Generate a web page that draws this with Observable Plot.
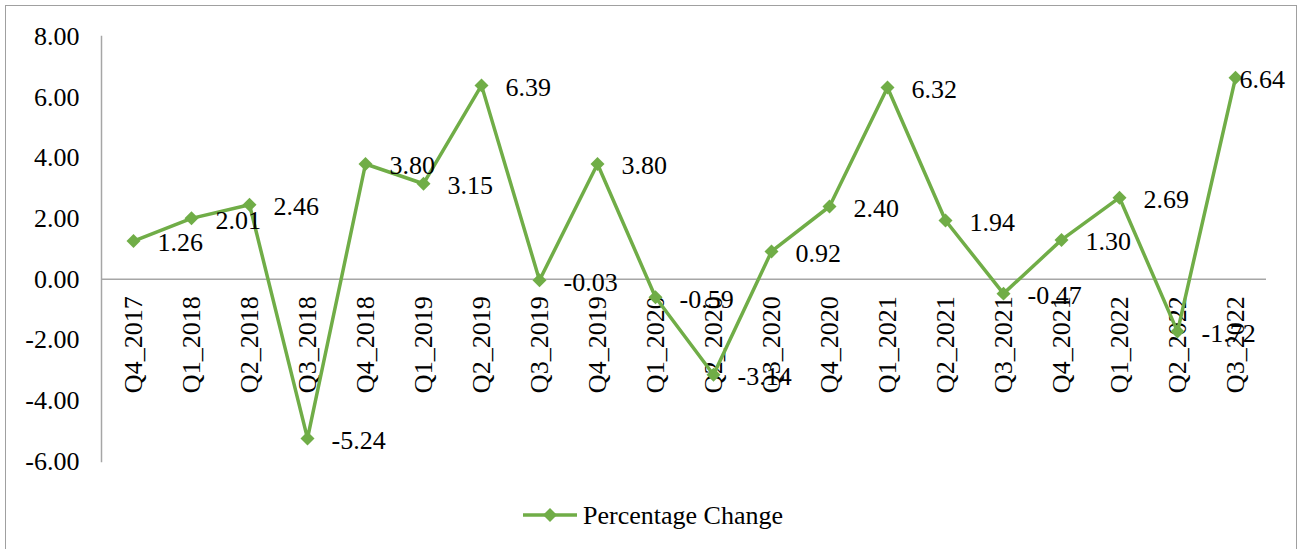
<!DOCTYPE html>
<html><head><meta charset="utf-8">
<script src="https://cdn.jsdelivr.net/npm/d3@7"></script>
<script src="https://cdn.jsdelivr.net/npm/@observablehq/plot@0.6"></script>
<style>
html,body{margin:0;padding:0;background:#fff;overflow:hidden;width:1299px;height:549px;}
body{font-family:"Liberation Serif","Times New Roman",serif;}
#frame{position:absolute;left:5px;top:5px;width:1292px;height:600px;border:1px solid #a0a0a0;box-sizing:border-box;}
#chart{position:absolute;left:0;top:0;}
#legend{position:absolute;left:0;top:490px;}
</style></head><body>
<div id="frame"></div>
<div id="chart"></div>
<div id="legend"></div>
<script>
const quarters = ["Q4_2017","Q1_2018","Q2_2018","Q3_2018","Q4_2018","Q1_2019","Q2_2019","Q3_2019","Q4_2019","Q1_2020","Q2_2020","Q3_2020","Q4_2020","Q1_2021","Q2_2021","Q3_2021","Q4_2021","Q1_2022","Q2_2022","Q3_2022"];
const changes = [1.26, 2.01, 2.46, -5.24, 3.80, 3.15, 6.39, -0.03, 3.80, -0.59, -3.14, 0.92, 2.40, 6.32, 1.94, -0.47, 1.30, 2.69, -1.72, 6.64];
const yTicks = [-6, -4, -2, 0, 2, 4, 6, 8];
const seriesName = "Percentage Change";

const green = "#70AD47";
const data = quarters.map((q, i) => ({q, v: changes[i], label: changes[i].toFixed(2)}));
const font = "Liberation Serif";
const mainLabels = data.slice(0, -1);
const lastLabel = data.slice(-1);

const chart = Plot.plot({
  width: 1299,
  height: 490,
  marginLeft: 101,
  marginRight: 33,
  marginTop: 36,
  marginBottom: 29,
  style: {fontFamily: font, fontSize: "26px", color: "#000", background: "transparent"},
  x: {type: "point", domain: quarters, padding: 0.5, axis: null},
  y: {domain: [-6, 8], nice: false},
  marks: [
    Plot.ruleY([0], {stroke: "#a6a6a6", strokeWidth: 1.5}),
    Plot.frame({anchor: "left", stroke: "#a6a6a6", strokeWidth: 1.5}),
    Plot.axisY({ticks: yTicks, tickFormat: d => d.toFixed(2), tickSize: 0, tickPadding: 22, fontSize: 26, label: null}),
    Plot.text(data, {x: "q", y: () => 0, text: "q", rotate: -90, textAnchor: "end", dy: 17, fontSize: 26, fill: "#000"}),
    Plot.line(data, {x: "q", y: "v", stroke: green, strokeWidth: 3.5}),
    Plot.dot(data, {x: "q", y: "v", symbol: "diamond2", r: 6.3, fill: green, stroke: "none"}),
    Plot.text(mainLabels, {x: "q", y: "v", text: "label", textAnchor: "start", dx: 24, dy: 2, fontSize: 26, fill: "#000"}),
    Plot.text(lastLabel, {x: "q", y: "v", text: "label", textAnchor: "start", dx: 4, dy: 2, fontSize: 26, fill: "#000"})
  ]
});
document.getElementById("chart").appendChild(chart);

// legend
const lg = d3.select("#legend").append("svg").attr("width", 1299).attr("height", 50);
lg.append("line").attr("x1", 523).attr("x2", 577).attr("y1", 25).attr("y2", 25)
  .attr("stroke", green).attr("stroke-width", 3.5);
lg.append("path").attr("d", d3.symbol(d3.symbolDiamond2, 125)()).attr("transform", "translate(550,25)").attr("fill", green);
lg.append("text").attr("x", 583).attr("y", 25).attr("dy", "0.35em")
  .attr("font-family", font).attr("font-size", 26).attr("fill", "#000").text(seriesName);
</script>
</body></html>
